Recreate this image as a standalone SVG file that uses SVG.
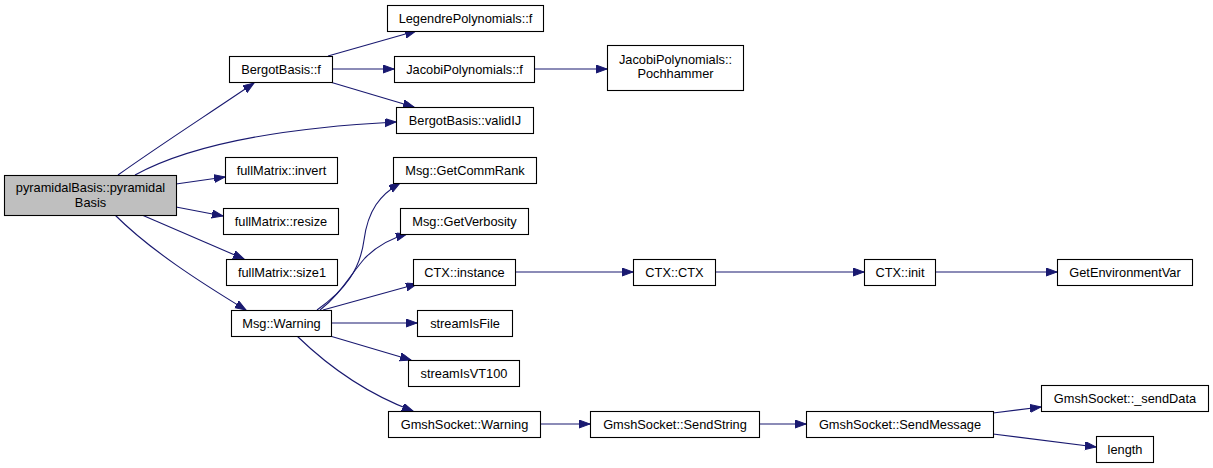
<svg xmlns="http://www.w3.org/2000/svg" width="1213" height="468" viewBox="0 0 1213 468">
<style>
.node rect{fill:#fff;stroke:#000;stroke-width:1.1}
.node.root rect{fill:#bfbfbf}
.node text{font-family:"Liberation Sans",Arial,Helvetica,sans-serif;font-size:12.8px;fill:#000;text-anchor:middle}
.edges path{fill:none;stroke:#191970;stroke-width:1.1;marker-end:url(#arr)}
</style>
<defs>
<marker id="arr" markerUnits="userSpaceOnUse" markerWidth="12" markerHeight="9" refX="11" refY="4" orient="auto">
<path d="M0,0 L11,4 L0,8 z" fill="#191970" stroke="#191970" stroke-width="1"/>
</marker>
</defs>
<rect width="1213" height="468" fill="#fff"/>
<g class="edges">
<path d="M118,175 C160,145 210,113 254,83"/>
<path d="M135,175 C190,145 280,128 396,122"/>
<path d="M176,184 L225,177"/>
<path d="M176,207 L223,216"/>
<path d="M142,215 L244,259"/>
<path d="M115,215 C150,250 200,282 246,310"/>
<path d="M328,56 L416,31"/>
<path d="M332,69 L394,69"/>
<path d="M330,82 L414,107"/>
<path d="M534,69 L607,69"/>
<path d="M317,310 C345,290 360,270 364,240 C368,210 380,195 400,183"/>
<path d="M320,310 C340,295 350,275 365,258 C378,245 392,238 407,234"/>
<path d="M323,310 L417,284"/>
<path d="M331,323 L417,323"/>
<path d="M330,336 L411,360"/>
<path d="M297,336 C330,368 370,395 413,411"/>
<path d="M515,272 L633,272"/>
<path d="M715,272 L864,272"/>
<path d="M935,272 L1057,272"/>
<path d="M540,424 L590,424"/>
<path d="M759,424 L806,424"/>
<path d="M993,413 L1041,407"/>
<path d="M993,434 L1096,447"/>
</g>
<g id="n_root" class="node root"><rect x="4.5" y="175.5" width="172" height="40"/><text x="90.5" y="192">pyramidalBasis::pyramidal</text><text x="90.5" y="207">Basis</text></g>
<g id="n_bergotf" class="node"><rect x="229.5" y="56.5" width="103" height="26"/><text x="281" y="74">BergotBasis::f</text></g>
<g id="n_legendre" class="node"><rect x="387.5" y="5.5" width="156" height="26"/><text x="465.5" y="23">LegendrePolynomials::f</text></g>
<g id="n_jacobif" class="node"><rect x="394.5" y="56.5" width="140" height="26"/><text x="464.5" y="74">JacobiPolynomials::f</text></g>
<g id="n_pochhammer" class="node"><rect x="607.5" y="45.5" width="136" height="45"/><text x="675.5" y="64">JacobiPolynomials::</text><text x="675.5" y="78">Pochhammer</text></g>
<g id="n_valid" class="node"><rect x="396.5" y="107.5" width="137" height="26"/><text x="465" y="125">BergotBasis::validIJ</text></g>
<g id="n_invert" class="node"><rect x="225.5" y="157.5" width="112" height="26"/><text x="281.5" y="175">fullMatrix::invert</text></g>
<g id="n_commrank" class="node"><rect x="393.5" y="157.5" width="143" height="26"/><text x="465" y="175">Msg::GetCommRank</text></g>
<g id="n_resize" class="node"><rect x="223.5" y="208.5" width="115" height="26"/><text x="281" y="226">fullMatrix::resize</text></g>
<g id="n_verbosity" class="node"><rect x="400.5" y="208.5" width="128" height="26"/><text x="464.5" y="226">Msg::GetVerbosity</text></g>
<g id="n_size1" class="node"><rect x="226.5" y="259.5" width="111" height="26"/><text x="282" y="277">fullMatrix::size1</text></g>
<g id="n_ctxinst" class="node"><rect x="413.5" y="259.5" width="102" height="26"/><text x="464.5" y="277">CTX::instance</text></g>
<g id="n_ctxctx" class="node"><rect x="633.5" y="259.5" width="82" height="26"/><text x="674.5" y="277">CTX::CTX</text></g>
<g id="n_ctxinit" class="node"><rect x="864.5" y="259.5" width="71" height="26"/><text x="900" y="277">CTX::init</text></g>
<g id="n_getenv" class="node"><rect x="1057.5" y="259.5" width="135" height="26"/><text x="1125" y="277">GetEnvironmentVar</text></g>
<g id="n_warning" class="node"><rect x="231.5" y="310.5" width="100" height="26"/><text x="281.5" y="328">Msg::Warning</text></g>
<g id="n_isfile" class="node"><rect x="417.5" y="310.5" width="95" height="26"/><text x="465" y="328">streamIsFile</text></g>
<g id="n_isvt100" class="node"><rect x="408.5" y="360.5" width="111" height="26"/><text x="464" y="378">streamIsVT100</text></g>
<g id="n_gswarning" class="node"><rect x="388.5" y="411.5" width="152" height="26"/><text x="464.5" y="429">GmshSocket::Warning</text></g>
<g id="n_sendstring" class="node"><rect x="590.5" y="411.5" width="169" height="26"/><text x="675" y="429">GmshSocket::SendString</text></g>
<g id="n_sendmessage" class="node"><rect x="806.5" y="411.5" width="187" height="26"/><text x="900" y="429">GmshSocket::SendMessage</text></g>
<g id="n_senddata" class="node"><rect x="1041.5" y="385.5" width="167" height="26"/><text x="1125" y="403">GmshSocket::_sendData</text></g>
<g id="n_length" class="node"><rect x="1096.5" y="436.5" width="57" height="26"/><text x="1125" y="454">length</text></g>
</svg>
